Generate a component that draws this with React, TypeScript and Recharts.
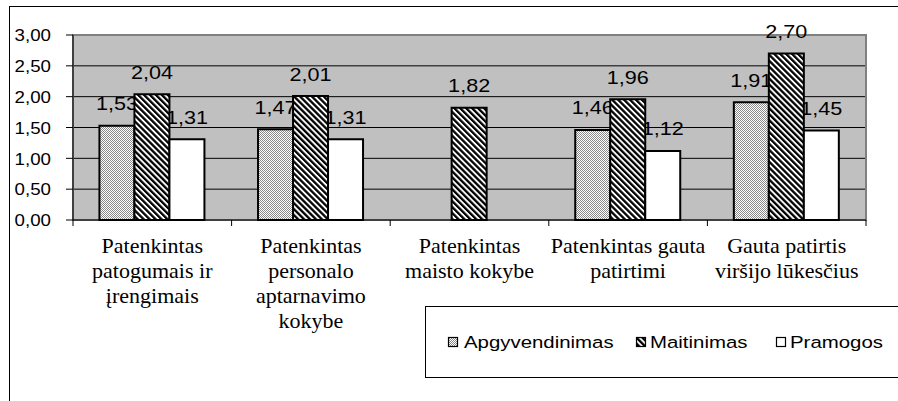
import React from 'react';
import { BarChart, Bar, XAxis, YAxis, CartesianGrid, ReferenceArea, Legend } from 'recharts';

const categories = [
  'Patenkintas\npatogumais ir\nįrengimais',
  'Patenkintas\npersonalo\naptarnavimo\nkokybe',
  'Patenkintas\nmaisto kokybe',
  'Patenkintas gauta\npatirtimi',
  'Gauta patirtis\nviršijo lūkesčius',
];
const apgyvendinimas: (number | null)[] = [1.53, 1.47, null, 1.46, 1.91];
const maitinimas: (number | null)[] = [2.04, 2.01, 1.82, 1.96, 2.7];
const pramogos: (number | null)[] = [1.31, 1.31, null, 1.12, 1.45];
const yTicks = [0, 0.5, 1, 1.5, 2, 2.5, 3];
const gridValues = [0.5, 1, 1.5, 2, 2.5];
const seriesNames = ['Apgyvendinimas', 'Maitinimas', 'Pramogos'];

const data = categories.map((name, i) => ({
  name,
  apg: apgyvendinimas[i],
  mai: maitinimas[i],
  pra: pramogos[i],
}));

const W = 898;
const H = 401;
const M = { top: 35, right: 32, left: 0, bottom: 61 };
const Y_W = 73;
const X_H = 120;
const PLOT_W = W - M.left - M.right - Y_W;
const BAND = PLOT_W / categories.length;

const SANS = 'Liberation Sans';
const SERIF = 'Liberation Serif';

const fmt = (v: number) => v.toFixed(2).replace('.', ',');

const Patterns = ({ prefix }: { prefix: string }) => (
  <defs>
    <pattern id={`${prefix}dots`} width={2} height={2} patternUnits="userSpaceOnUse">
      <rect x={0} y={0} width={2} height={2} fill="#ffffff" />
      <rect x={0} y={0} width={1} height={1} fill="#8a8a8a" />
      <rect x={1} y={1} width={1} height={1} fill="#8a8a8a" />
    </pattern>
    <pattern
      id={`${prefix}stripes`}
      width={4.2}
      height={4.2}
      patternUnits="userSpaceOnUse"
      patternTransform="rotate(-45)"
    >
      <rect x={0} y={0} width={4.2} height={4.2} fill="#ffffff" />
      <rect x={0} y={0} width={2.3} height={4.2} fill="#000000" />
    </pattern>
  </defs>
);

const labelShape = (key: 'apg' | 'mai' | 'pra') => (props: any) => {
  const { x, y, width, payload } = props;
  const v = payload ? payload[key] : null;
  if (v == null || !isFinite(x) || !isFinite(y)) return <g />;
  return (
    <text
      x={0}
      y={0}
      transform={`translate(${x + width / 2},${y - 15.5}) scale(1.2,1)`}
      textAnchor="middle"
      style={{ fontFamily: SANS, fontSize: 18 }}
      fill="#000"
    >
      {fmt(v)}
    </text>
  );
};

const YTick = (props: any) => {
  const { x, y, payload } = props;
  return (
    <text
      x={0}
      y={0}
      transform={`translate(${x},${y + 6.3}) scale(1.1,1)`}
      textAnchor="end"
      style={{ fontFamily: SANS, fontSize: 17 }}
      fill="#000"
    >
      {fmt(Number(payload.value))}
    </text>
  );
};

const XTick = (props: any) => {
  const { x, y, payload, index } = props;
  const half = BAND / 2;
  const lines = String(payload.value).split('\n');
  const last = index === categories.length - 1;
  return (
    <g>
      <line x1={x - half} x2={x - half} y1={y} y2={y + 6} stroke="#000" strokeWidth={1} />
      {last && <line x1={x + half} x2={x + half} y1={y} y2={y + 6} stroke="#000" strokeWidth={1} />}
      {lines.map((l, i) => (
        <text
          key={i}
          x={x}
          y={y + 33 + i * 25}
          textAnchor="middle"
          fontFamily={SERIF}
          fontSize={22}
          style={{ fontFamily: SERIF, fontSize: 22 }}
          fill="#000"
        >
          {l}
        </text>
      ))}
    </g>
  );
};

const renderLegend = () => {
  const iconX = [24, 212, 352];
  const textX = [40, 226, 366];
  const fills = ['url(#Ldots)', 'url(#Lstripes)', '#ffffff'];
  return (
    <svg width={474} height={74} style={{ display: 'block' }}>
      <Patterns prefix="L" />
      <rect x={1.5} y={1.5} width={490} height={71} fill="#fff" stroke="#000" strokeWidth={1} />
      {seriesNames.map((n, i) => (
        <g key={n}>
          <rect x={iconX[i] + 0.5} y={32.5} width={9} height={9} fill={fills[i]} stroke="#000" strokeWidth={1.2} />
          <text
            x={0}
            y={0}
            transform={`translate(${textX[i]},${42.5}) scale(1.2,1)`}
            style={{ fontFamily: SANS, fontSize: 17 }}
            fill="#000"
          >
            {n}
          </text>
        </g>
      ))}
    </svg>
  );
};

export default function App() {
  return (
    <div style={{ position: 'absolute', left: 0, top: 0, width: W, height: H, overflow: 'hidden', background: '#fff' }}>
      <div
        style={{
          position: 'absolute',
          left: 9,
          top: 6,
          width: 1200,
          height: 1200,
          borderLeft: '1px solid #000',
          borderTop: '1px solid #000',
        }}
      />
      <div style={{ position: 'absolute', left: 0, top: 0 }}>
        <BarChart width={W} height={H} data={data} margin={M} barCategoryGap="16.67%" barGap={0}>
          <Patterns prefix="P" />
          <CartesianGrid
            vertical={false}
            horizontalValues={gridValues}
            stroke="#000"
            strokeWidth={1}
            fill="#c0c0c0"
            fillOpacity={1}
          />
          <ReferenceArea y1={0} y2={3} fill="none" stroke="#808080" strokeWidth={2} ifOverflow="visible" />
          <XAxis
            dataKey="name"
            height={X_H}
            interval={0}
            tickLine={false}
            tickSize={0}
            tickMargin={0}
            axisLine={{ stroke: '#000', strokeWidth: 1 }}
            tick={XTick}
          />
          <XAxis xAxisId="lbl" dataKey="name" hide />
          <YAxis
            width={Y_W}
            domain={[0, 3]}
            ticks={yTicks}
            interval={0}
            tickSize={7}
            tickMargin={15}
            axisLine={{ stroke: '#000', strokeWidth: 1 }}
            tickLine={{ stroke: '#000', strokeWidth: 1 }}
            tick={YTick}
          />
          <Bar xAxisId="lbl" dataKey="apg" fill="none" shape={labelShape('apg')} isAnimationActive={false} legendType="none" />
          <Bar xAxisId="lbl" dataKey="mai" fill="none" shape={labelShape('mai')} isAnimationActive={false} legendType="none" />
          <Bar xAxisId="lbl" dataKey="pra" fill="none" shape={labelShape('pra')} isAnimationActive={false} legendType="none" />
          <Bar dataKey="apg" name={seriesNames[0]} fill="url(#Pdots)" stroke="#000" strokeWidth={2} isAnimationActive={false} />
          <Bar dataKey="mai" name={seriesNames[1]} fill="url(#Pstripes)" stroke="#000" strokeWidth={2} isAnimationActive={false} />
          <Bar dataKey="pra" name={seriesNames[2]} fill="#ffffff" stroke="#000" strokeWidth={2} isAnimationActive={false} />
          <Legend
            layout="vertical"
            align="center"
            verticalAlign="middle"
            content={renderLegend}
            wrapperStyle={{ left: 424, top: 305, width: 474, height: 74 }}
          />
        </BarChart>
      </div>
    </div>
  );
}
